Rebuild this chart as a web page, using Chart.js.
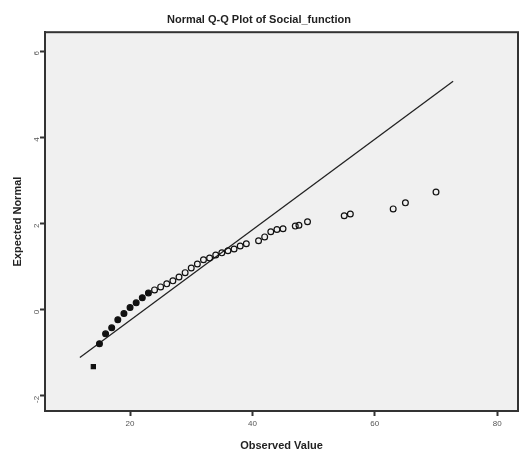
<!DOCTYPE html>
<html>
<head>
<meta charset="utf-8">
<title>Normal Q-Q Plot of Social_function</title>
<script src="https://cdn.jsdelivr.net/npm/chart.js@4/dist/chart.umd.min.js"></script>
<style>
    html, body { margin: 0; padding: 0; background: #fff; }
    #wrap { width: 524px; height: 454px; position: relative; }
</style>
</head>
<body>
<div id="wrap"><canvas id="canvas"></canvas></div>
<script>
var observed = [14, 15, 16, 17, 18, 19, 20, 21, 22, 23, 24, 25, 26, 27, 28, 29, 30, 31, 32,
    33, 34, 35, 36, 37, 38, 39, 41, 42, 43, 44, 45, 47, 47.6, 49, 55, 56, 63, 65, 70];
var expected = [-1.32, -0.79, -0.56, -0.42, -0.23, -0.09, 0.05, 0.16, 0.28, 0.39, 0.46, 0.53, 0.60,
    0.67, 0.76, 0.86, 0.97, 1.06, 1.16, 1.20, 1.27, 1.32, 1.37, 1.41, 1.48, 1.53, 1.60, 1.69, 1.81,
    1.86, 1.88, 1.94, 1.96, 2.04, 2.18, 2.22, 2.34, 2.48, 2.73];

// reference line ends
var lineX = [11.8, 72.8];
var lineY = [-1.11, 5.3];

var xTicks = [20, 40, 60, 80];
var yTicks = [-2, 0, 2, 4, 6];

var FONT = "'Liberation Sans', Arial, sans-serif";

var plotFrame = {
    id: 'plotFrame',
    beforeDraw(chart) {
        var a = chart.chartArea, c = chart.ctx;
        c.save();
        c.fillStyle = '#f0f0f0';
        c.fillRect(a.left, a.top, a.right - a.left, a.bottom - a.top);
        c.restore();
    },
    afterDraw(chart) {
        var a = chart.chartArea, c = chart.ctx;
        c.save();
        c.strokeStyle = '#333';
        c.lineWidth = 2;
        c.strokeRect(a.left, a.top, a.right - a.left, a.bottom - a.top);
        c.restore();
    }
};

function setTicks(list) {
    return function(scale) {
        scale.ticks = list.map(v => ({ value: v }));
    };
}

var ctx = document.getElementById('canvas').getContext('2d');
var chart = new Chart(ctx, {
    type: 'scatter',
    data: {
        datasets: [{
            label: 'Observed',
            data: observed.map((v, i) => ({ x: v, y: expected[i] })),
            pointStyle: (c) => c.dataIndex === 0 ? 'rect' : 'circle',
            pointRadius: 2.9,
            borderColor: '#111',
            borderWidth: 1.2,
            backgroundColor: (c) => c.dataIndex < 10 ? '#111' : 'rgba(0,0,0,0)',
        }, {
            label: 'Line',
            data: lineX.map((v, i) => ({ x: v, y: lineY[i] })),
            showLine: true,
            pointRadius: 0,
            borderColor: '#222',
            borderWidth: 1.3,
        }]
    },
    options: {
        responsive: true,
        maintainAspectRatio: false,
        animation: false,
        layout: { padding: { left: 0, right: 6, top: 0, bottom: 0 } },
        plugins: {
            legend: { display: false },
            tooltip: { enabled: false },
            title: {
                display: true,
                text: 'Normal Q-Q Plot of Social_function',
                color: '#222',
                font: { family: FONT, size: 11, weight: 'bold' },
                padding: { top: 13, bottom: 6 },
            }
        },
        scales: {
            x: {
                type: 'linear',
                min: 6.1,
                max: 83.4,
                afterBuildTicks: setTicks(xTicks),
                afterFit: (s) => { s.height = 43; },
                grid: { drawOnChartArea: false, color: '#333', tickLength: 5, tickWidth: 2 },
                border: { display: true, color: '#333', width: 2 },
                ticks: { color: '#555', font: { family: FONT, size: 8 }, padding: 3, maxRotation: 0 },
                title: {
                    display: true,
                    text: 'Observed Value',
                    color: '#222',
                    font: { family: FONT, size: 11, weight: 'bold' },
                    padding: { top: 4, bottom: 1 },
                }
            },
            y: {
                type: 'linear',
                min: -2.35,
                max: 6.44,
                afterBuildTicks: setTicks(yTicks),
                afterFit: (s) => { s.width = 45; },
                grid: { drawOnChartArea: false, color: '#333', tickLength: 5, tickWidth: 2 },
                border: { display: true, color: '#333', width: 2 },
                ticks: { color: '#555', font: { family: FONT, size: 8 }, padding: 3, minRotation: 90, maxRotation: 90 },
                title: {
                    display: true,
                    text: 'Expected Normal',
                    color: '#222',
                    font: { family: FONT, size: 11, weight: 'bold' },
                    padding: { top: 11, bottom: 4 },
                }
            }
        }
    },
    plugins: [plotFrame]
});
</script>
</body>
</html>
